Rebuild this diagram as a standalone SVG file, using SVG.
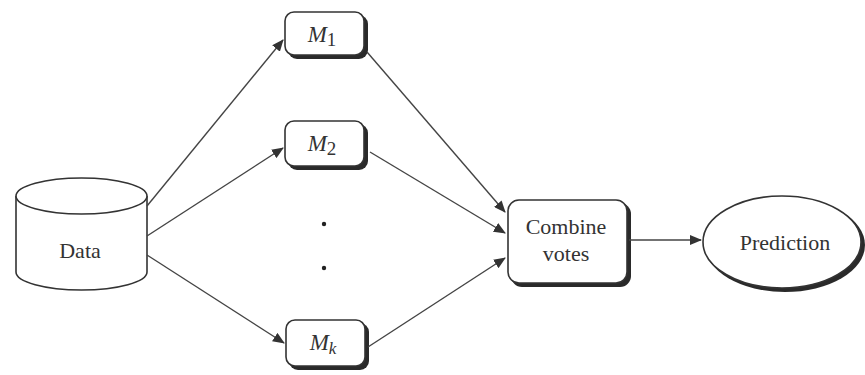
<svg xmlns="http://www.w3.org/2000/svg" width="865" height="375" viewBox="0 0 865 375">
<style>
.s{fill:none;stroke:#333;stroke-width:1.6}
.sh{fill:#2a2a2a}
.b{fill:#fff;stroke:#333;stroke-width:1.6}
.t{font-family:"Liberation Serif",serif;font-size:22px;fill:#333;text-anchor:middle}
.m{font-family:"Liberation Serif",serif;font-size:23px;font-style:italic;fill:#333;text-anchor:middle}
.c{stroke:#444;stroke-width:1.4;fill:none;marker-end:url(#ah)}
</style>
<defs>
<marker id="ah" markerWidth="12" markerHeight="10" refX="11" refY="5" orient="auto" markerUnits="userSpaceOnUse">
<path d="M0,0 L12,5 L0,10 Z" fill="#333"/>
</marker>
</defs>
<rect width="865" height="375" fill="#fff"/>
<g id="data">
<path class="b" d="M16,196 L16,272 A65.5,18 0 0 0 147,272 L147,196"/>
<ellipse class="b" cx="81.5" cy="196" rx="65.5" ry="18"/>
<text class="t" x="80" y="258">Data</text>
</g>
<g id="m1">
<rect class="sh" x="288" y="15" width="80" height="44" rx="9"/>
<rect class="b" x="285" y="12" width="79" height="43" rx="9"/>
<text class="m" x="322" y="42">M<tspan font-style="normal" font-size="19" dy="4">1</tspan></text>
</g>
<g id="m2">
<rect class="sh" x="288" y="124" width="80" height="46" rx="9"/>
<rect class="b" x="285" y="121" width="79" height="45" rx="9"/>
<text class="m" x="322" y="151">M<tspan font-style="normal" font-size="19" dy="4">2</tspan></text>
</g>
<g id="dots">
<circle cx="324" cy="224" r="2.2" fill="#222"/>
<circle cx="324" cy="268" r="2.2" fill="#222"/>
</g>
<g id="mk">
<rect class="sh" x="289" y="323" width="80" height="47" rx="9"/>
<rect class="b" x="286" y="320" width="79" height="46" rx="9"/>
<text class="m" x="323" y="350">M<tspan font-size="17" dy="4">k</tspan></text>
</g>
<g id="combine">
<rect class="sh" x="511" y="203" width="120" height="84" rx="11"/>
<rect class="b" x="508" y="200" width="119" height="83" rx="11"/>
<text class="t" x="566" y="234">Combine</text>
<text class="t" x="566" y="261">votes</text>
</g>
<g id="prediction">
<ellipse cx="785" cy="245" rx="80" ry="47" fill="#2a2a2a"/>
<ellipse class="b" cx="782" cy="242" rx="79" ry="46"/>
<text class="t" x="785" y="250">Prediction</text>
</g>
<g id="connectors">
<line class="c" x1="147" y1="206" x2="283" y2="40"/>
<line class="c" x1="147" y1="236" x2="283" y2="148"/>
<line class="c" x1="147" y1="255" x2="284" y2="343"/>
<line class="c" x1="367" y1="52" x2="505" y2="212"/>
<line class="c" x1="370" y1="152" x2="505" y2="233"/>
<line class="c" x1="368" y1="347" x2="505" y2="258"/>
<line class="c" x1="629" y1="240" x2="701" y2="240"/>
</g>
</svg>
